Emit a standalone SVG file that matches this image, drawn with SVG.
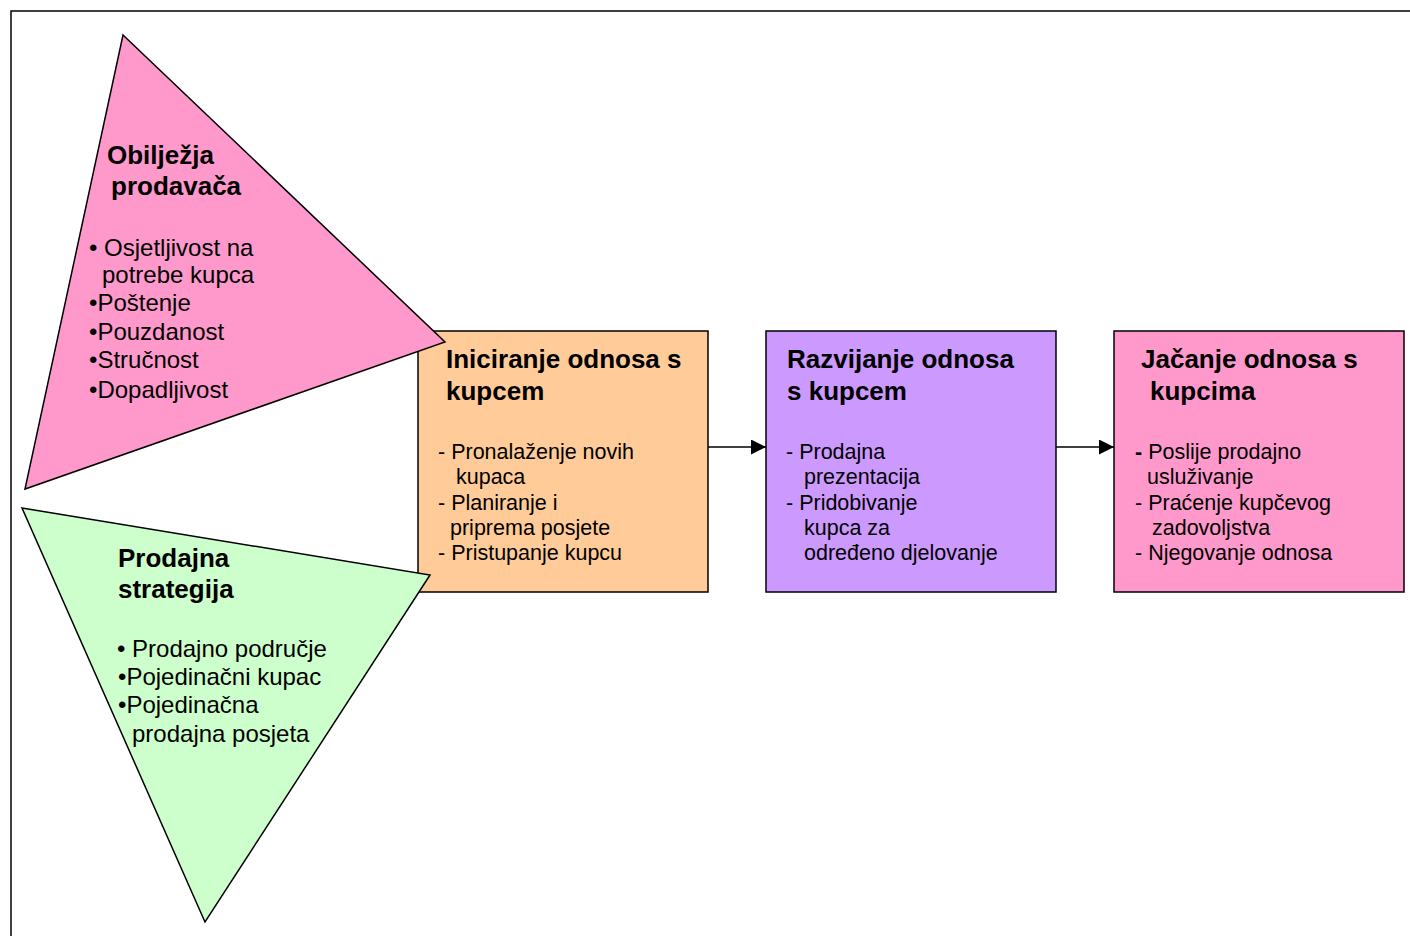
<svg xmlns="http://www.w3.org/2000/svg" width="1410" height="936" viewBox="0 0 1410 936">
  <style>
    .frame { fill: none; stroke: #000; stroke-width: 1.5; }
    .shape { stroke: #000; stroke-width: 1.5; }
    .title { font-family: "Liberation Sans", Arial, sans-serif; font-weight: bold; font-size: 26px; fill: #000; }
    .tri { font-family: "Liberation Sans", Arial, sans-serif; font-size: 24px; fill: #000; }
    .body { font-family: "Liberation Sans", Arial, sans-serif; font-size: 21.5px; fill: #000; }
    .conn { stroke: #000; stroke-width: 1.5; fill: none; }
  </style>
  <defs>
    <marker id="arrow" viewBox="0 0 10 10" refX="10" refY="5" markerWidth="15" markerHeight="15" markerUnits="userSpaceOnUse" orient="auto">
      <path d="M0,0 L10,5 L0,10 z" fill="#000"/>
    </marker>
  </defs>
  <rect width="1410" height="936" fill="#fff"/>
  <!-- page frame -->
  <path class="frame" d="M11,936 L11,11 L1410,11"/>

  <!-- process boxes -->
  <g id="iniciranje">
    <rect class="shape" x="418" y="331" width="290" height="261" fill="#FFCC99"/>
    <text class="title" x="446" y="368">Iniciranje odnosa s</text>
    <text class="title" x="446" y="400">kupcem</text>
    <text class="body" x="438" y="459">- Pronalaženje novih</text>
    <text class="body" x="456" y="484">kupaca</text>
    <text class="body" x="438" y="510">- Planiranje i</text>
    <text class="body" x="450" y="535">priprema posjete</text>
    <text class="body" x="438" y="560">- Pristupanje kupcu</text>
  </g>
  <g id="razvijanje">
    <rect class="shape" x="766" y="331" width="290" height="261" fill="#CC99FF"/>
    <text class="title" x="787" y="368">Razvijanje odnosa</text>
    <text class="title" x="787" y="400">s kupcem</text>
    <text class="body" x="786" y="459">- Prodajna</text>
    <text class="body" x="804" y="484">prezentacija</text>
    <text class="body" x="786" y="510">- Pridobivanje</text>
    <text class="body" x="804" y="535">kupca za</text>
    <text class="body" x="804" y="560">određeno djelovanje</text>
  </g>
  <g id="jacanje">
    <rect class="shape" x="1114" y="331" width="290" height="261" fill="#FF99CC"/>
    <text class="title" x="1141" y="368">Jačanje odnosa s</text>
    <text class="title" x="1150" y="400">kupcima</text>
    <text class="body" x="1135" y="459"><tspan font-weight="bold">-</tspan> Poslije prodajno</text>
    <text class="body" x="1147" y="484">usluživanje</text>
    <text class="body" x="1135" y="510">- Praćenje kupčevog</text>
    <text class="body" x="1152" y="535">zadovoljstva</text>
    <text class="body" x="1135" y="560">- Njegovanje odnosa</text>
  </g>

  <!-- input triangles -->
  <g id="obiljezja">
    <polygon class="shape" points="123,35 445,342 25,489" fill="#FF99CC"/>
    <text class="title" x="107" y="164">Obilježja</text>
    <text class="title" x="111" y="195">prodavača</text>
    <text class="tri" x="89" y="256">• Osjetljivost na</text>
    <text class="tri" x="102" y="283">potrebe kupca</text>
    <text class="tri" x="89" y="311">•Poštenje</text>
    <text class="tri" x="89" y="340">•Pouzdanost</text>
    <text class="tri" x="89" y="368">•Stručnost</text>
    <text class="tri" x="89" y="398">•Dopadljivost</text>
  </g>
  <g id="strategija">
    <polygon class="shape" points="22,508 430,575 205,922" fill="#CCFFCC"/>
    <text class="title" x="118" y="567">Prodajna</text>
    <text class="title" x="118" y="598">strategija</text>
    <text class="tri" x="117" y="657">• Prodajno područje</text>
    <text class="tri" x="118" y="685">•Pojedinačni kupac</text>
    <text class="tri" x="118" y="713">•Pojedinačna</text>
    <text class="tri" x="132" y="742">prodajna posjeta</text>
  </g>

  <!-- connectors -->
  <g id="connectors">
    <line class="conn" x1="708" y1="447" x2="766" y2="447" marker-end="url(#arrow)"/>
    <line class="conn" x1="1056" y1="447" x2="1114" y2="447" marker-end="url(#arrow)"/>
  </g>
</svg>
